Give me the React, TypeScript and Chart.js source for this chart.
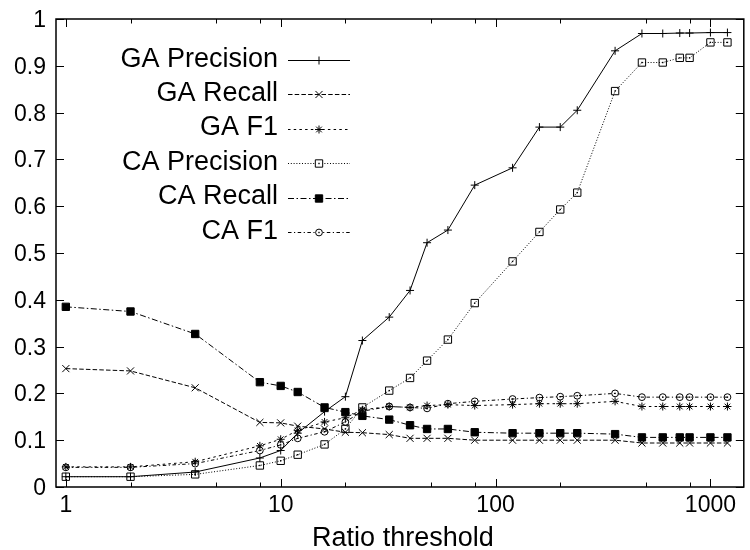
import { useEffect, useRef } from "react";
import { Chart, registerables } from "chart.js";
import { drawPoint } from "chart.js/helpers";

Chart.register(...registerables);

// ---------- data ----------
const thresholds = [1, 2, 4, 8, 10, 12, 16, 20, 24, 32, 40, 48, 60, 80, 120, 160, 200, 240, 360, 480, 600, 720, 800, 1000, 1200];

const gaPrecision = [0.022, 0.022, 0.032, 0.062, 0.078, 0.115, 0.161, 0.193, 0.313, 0.363, 0.42, 0.522, 0.549, 0.645, 0.682, 0.769, 0.769, 0.805, 0.932, 0.969, 0.969, 0.97, 0.97, 0.971, 0.971];
const gaRecall = [0.253, 0.248, 0.212, 0.138, 0.137, 0.13, 0.124, 0.117, 0.116, 0.112, 0.104, 0.104, 0.104, 0.1, 0.1, 0.1, 0.1, 0.1, 0.1, 0.094, 0.094, 0.094, 0.094, 0.094, 0.094];
const gaF1 = [0.043, 0.043, 0.054, 0.088, 0.102, 0.121, 0.139, 0.148, 0.165, 0.172, 0.17, 0.174, 0.176, 0.174, 0.176, 0.178, 0.178, 0.178, 0.183, 0.172, 0.172, 0.172, 0.172, 0.172, 0.172];
const caPrecision = [0.022, 0.022, 0.027, 0.046, 0.056, 0.069, 0.091, 0.124, 0.17, 0.206, 0.233, 0.27, 0.315, 0.393, 0.482, 0.545, 0.593, 0.629, 0.846, 0.907, 0.907, 0.917, 0.917, 0.95, 0.95];
const caRecall = [0.385, 0.375, 0.327, 0.224, 0.216, 0.203, 0.17, 0.16, 0.152, 0.144, 0.132, 0.124, 0.124, 0.117, 0.115, 0.115, 0.115, 0.115, 0.113, 0.106, 0.106, 0.106, 0.106, 0.106, 0.106];
const caF1 = [0.042, 0.042, 0.05, 0.078, 0.09, 0.104, 0.118, 0.139, 0.162, 0.172, 0.17, 0.168, 0.178, 0.183, 0.188, 0.191, 0.193, 0.195, 0.2, 0.192, 0.192, 0.192, 0.192, 0.192, 0.192];

const seriesNames = ["GA Precision", "GA Recall", "GA F1", "CA Precision", "CA Recall", "CA F1"];
const seriesValues = [gaPrecision, gaRecall, gaF1, caPrecision, caRecall, caF1];

const yTickValues = [0, 0.1, 0.2, 0.3, 0.4, 0.5, 0.6, 0.7, 0.8, 0.9, 1];
const yTickLabels = ["0", "0.1", "0.2", "0.3", "0.4", "0.5", "0.6", "0.7", "0.8", "0.9", "1"];
const xTickValues = [1, 2, 5, 8, 10, 20, 50, 80, 100, 200, 500, 800, 1000];
const xLabelValues = [1, 10, 100, 1000];
const xTickLabels = ["1", "10", "100", "1000"];
const xAxisTitle = "Ratio threshold";

// ---------- styles ----------
const FONT = "'Liberation Sans', Arial, Helvetica, sans-serif";
const seriesStyles = [
  { pointStyle: "cross", radius: 4, filled: false, dot: false, dash: [] as number[] },
  { pointStyle: "crossRot", radius: 5, filled: false, dot: false, dash: [4.5, 2.2] },
  { pointStyle: "star", radius: 4, filled: false, dot: false, dash: [2.5, 3.2] },
  { pointStyle: "rect", radius: 5.2, filled: false, dot: true, dash: [1, 1.8] },
  { pointStyle: "rect", radius: 5.2, filled: true, dot: false, dash: [6, 2.5, 1.5, 2.5] },
  { pointStyle: "circle", radius: 3.4, filled: false, dot: true, dash: [3.5, 2.5, 1.2, 2.5] },
];

const gnuplotPlugin = {
  id: "gnuplotDecor",
  afterDraw(chart: any) {
    const { ctx, chartArea: a, scales } = chart;
    const xs = scales.x;
    const ys = scales.y;
    ctx.save();

    // center dots on open markers
    seriesStyles.forEach((st, i) => {
      if (!st.dot) return;
      const meta = chart.getDatasetMeta(i);
      ctx.fillStyle = "#000";
      meta.data.forEach((el: any) => {
        ctx.fillRect(el.x - 0.7, el.y - 0.7, 1.4, 1.4);
      });
    });

    // frame
    ctx.setLineDash([]);
    ctx.strokeStyle = "#000";
    ctx.lineWidth = 1.5;
    ctx.beginPath();
    ctx.rect(a.left, a.top, a.right - a.left, a.bottom - a.top);
    ctx.stroke();

    // ticks
    ctx.lineWidth = 1;
    ctx.beginPath();
    ys.ticks.forEach((t: any) => {
      const p = Math.round(ys.getPixelForValue(t.value)) + 0.5;
      ctx.moveTo(a.left, p);
      ctx.lineTo(a.left + 8, p);
      ctx.moveTo(a.right, p);
      ctx.lineTo(a.right - 8, p);
    });
    xs.ticks.forEach((t: any) => {
      const p = Math.round(xs.getPixelForValue(t.value)) + 0.5;
      const len = t.major ? 8 : 4.5;
      ctx.moveTo(p, a.bottom);
      ctx.lineTo(p, a.bottom - len);
      ctx.moveTo(p, a.top);
      ctx.lineTo(p, a.top + len);
    });
    ctx.stroke();

    // tick labels
    ctx.fillStyle = "#000";
    ctx.font = `23px ${FONT}`;
    ctx.textAlign = "right";
    ctx.textBaseline = "alphabetic";
    yTickValues.forEach((v, i) => {
      ctx.fillText(yTickLabels[i], a.left - 10, ys.getPixelForValue(v) + 8);
    });
    ctx.textAlign = "center";
    xLabelValues.forEach((v, i) => {
      ctx.fillText(xTickLabels[i], xs.getPixelForValue(v), a.bottom + 25);
    });

    // axis title
    ctx.font = `27px ${FONT}`;
    ctx.fillText(xAxisTitle, (a.left + a.right) / 2 + 3, a.bottom + 59);

    // legend
    const textRight = 278;
    const lineStart = 288;
    const lineEnd = 350;
    seriesNames.forEach((name, i) => {
      const st = seriesStyles[i];
      const y = 60 + i * 34.45;
      ctx.font = `27px ${FONT}`;
      ctx.textAlign = "right";
      ctx.fillStyle = "#000";
      ctx.fillText(name, textRight, y + 6.5);
      ctx.strokeStyle = "#000";
      ctx.lineWidth = 1;
      ctx.setLineDash(st.dash);
      ctx.beginPath();
      ctx.moveTo(lineStart, Math.round(y) + 0.5);
      ctx.lineTo(lineEnd, Math.round(y) + 0.5);
      ctx.stroke();
      ctx.setLineDash([]);
      const cx = (lineStart + lineEnd) / 2;
      const cy = Math.round(y) + 0.5;
      ctx.fillStyle = st.filled ? "#000" : "#fff";
      drawPoint(ctx, { pointStyle: st.pointStyle, radius: st.radius, rotation: 0, borderWidth: 1 } as any, cx, cy);
      if (st.dot) {
        ctx.fillStyle = "#000";
        ctx.fillRect(cx - 0.7, cy - 0.7, 1.4, 1.4);
      }
    });

    ctx.restore();
  },
};

export default function App() {
  const canvasRef = useRef<HTMLCanvasElement | null>(null);

  useEffect(() => {
    const canvas = canvasRef.current;
    if (!canvas) return;
    const datasets = seriesNames.map((name, i) => {
      const st = seriesStyles[i];
      return {
        label: name,
        data: thresholds.map((x, j) => ({ x, y: seriesValues[i][j] })),
        borderColor: "#000",
        borderWidth: 1,
        borderDash: st.dash,
        backgroundColor: "#000",
        pointStyle: st.pointStyle,
        pointRadius: st.radius,
        pointBorderWidth: 1,
        pointBorderColor: "#000",
        pointBackgroundColor: st.filled ? "#000" : "rgba(0,0,0,0)",
        tension: 0,
        fill: false,
      };
    });

    const chart = new Chart(canvas, {
      type: "line",
      data: { datasets } as any,
      options: {
        responsive: false,
        animation: false,
        events: [],
        layout: { padding: { top: 19, left: 0, right: 0, bottom: 0 } },
        plugins: {
          legend: { display: false },
          tooltip: { enabled: false },
          title: { display: false },
        },
        scales: {
          x: {
            type: "logarithmic",
            min: 0.9,
            max: 1430,
            grid: { display: false, drawTicks: false },
            border: { display: false },
            ticks: { display: false },
            afterBuildTicks: (s: any) => {
              s.ticks = xTickValues.map((v) => ({ value: v, major: xLabelValues.includes(v) }));
            },
            afterFit: (s: any) => {
              s.height = 63;
            },
          },
          y: {
            type: "linear",
            min: 0,
            max: 1,
            grid: { display: false, drawTicks: false },
            border: { display: false },
            ticks: { display: false },
            afterBuildTicks: (s: any) => {
              s.ticks = yTickValues.map((v) => ({ value: v }));
            },
            afterFit: (s: any) => {
              s.width = 56;
            },
          },
        },
      } as any,
      plugins: [gnuplotPlugin],
    });
    return () => chart.destroy();
  }, []);

  return (
    <div style={{ position: "absolute", left: 0, top: 0, width: 750, height: 550, background: "#fff" }}>
      <canvas ref={canvasRef} width={750} height={550} style={{ display: "block", width: 750, height: 550 }} />
    </div>
  );
}
